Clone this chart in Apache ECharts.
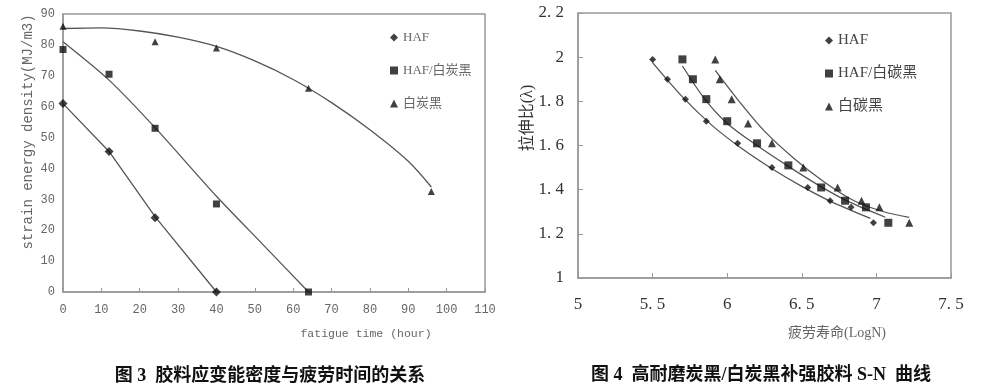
<!DOCTYPE html>
<html><head><meta charset="utf-8">
<script src="https://cdn.jsdelivr.net/npm/echarts@6/dist/echarts.min.js"></script>
<style>html,body{margin:0;padding:0;background:#fff}#c{width:1003px;height:387px}</style>
</head><body><div id="c"></div>
<script>
// ---- Fig 3 data ----
const hafTime = [0, 12, 24, 40];
const hafEnergy = [61, 45.5, 24, 0];
const mixTime = [0, 12, 24, 40, 64];
const mixEnergy = [78.5, 70.5, 53, 28.5, 0];
const whiteTime = [0, 24, 40, 64, 96];
const whiteEnergy = [86, 81, 79, 66, 32.5];
// trend lines
const hafFitX = [0, 12, 24, 40];
const hafFitY = [61, 45.5, 24.4, 0];
const mixFitX = [0, 12, 24, 40, 52, 64];
const mixFitY = [81, 68.6, 53.2, 31, 15.5, 0];
const whiteFitX = [0, 10, 20, 30, 40, 50, 60, 70, 80, 90, 96];
const whiteFitY = [85.3, 85.5, 84.5, 82.5, 79.5, 74.8, 68.8, 61.3, 52.5, 42.3, 34];
const fig3Legend = ['HAF', 'HAF/白炭黑', '白炭黑'];

// ---- Fig 4 data ----
const hafLogN = [5.50, 5.60, 5.72, 5.86, 6.07, 6.30, 6.54, 6.69, 6.83, 6.98];
const hafRatio = [1.99, 1.90, 1.81, 1.71, 1.61, 1.50, 1.41, 1.35, 1.32, 1.25];
const mixLogN = [5.70, 5.77, 5.86, 6.00, 6.20, 6.41, 6.63, 6.79, 6.93, 7.08];
const mixRatio = [1.99, 1.90, 1.81, 1.71, 1.61, 1.51, 1.41, 1.35, 1.32, 1.25];
const whiteLogN = [5.92, 5.95, 6.03, 6.14, 6.30, 6.51, 6.74, 6.90, 7.02, 7.22];
const whiteRatio = [1.99, 1.90, 1.81, 1.70, 1.61, 1.50, 1.41, 1.35, 1.32, 1.25];
const hafFit4X = [5.5, 5.7, 5.9, 6.1, 6.3, 6.5, 6.7, 6.96];
const hafFit4Y = [1.975, 1.82, 1.69, 1.585, 1.495, 1.415, 1.345, 1.27];
const mixFit4X = [5.7, 5.85, 6.0, 6.2, 6.4, 6.6, 6.8, 7.06];
const mixFit4Y = [1.96, 1.81, 1.70, 1.60, 1.51, 1.425, 1.35, 1.275];
const whiteFit4X = [5.92, 6.08, 6.25, 6.45, 6.65, 6.85, 7.05, 7.22];
const whiteFit4Y = [1.94, 1.80, 1.665, 1.54, 1.435, 1.35, 1.30, 1.275];
const fig4Legend = ['HAF ', 'HAF/白碳黑', '白碳黑'];

const zip = (a, b) => a.map((v, i) => [v, b[i]]);
const mono = "'Liberation Mono', 'DejaVu Sans Mono', monospace";
const serif = "'Liberation Serif', 'Noto Sans CJK SC', serif";
const fmtDot = v => { const s = String(Math.round(v * 10) / 10); return s.replace('.', '. '); };

const fitLine = (name, x, y, axis, smooth) => ({
  type: 'line', name: name, data: zip(x, y), xAxisIndex: axis, yAxisIndex: axis,
  symbol: 'none', smooth: smooth, lineStyle: { color: '#555', width: 1.3 }, silent: true, z: 1
});
const pts = (name, x, y, axis, sym, size) => ({
  type: 'scatter', name: name, data: zip(x, y), xAxisIndex: axis, yAxisIndex: axis,
  symbol: sym, symbolSize: size, itemStyle: { color: '#111' }, z: 3
});

const chart = echarts.init(document.getElementById('c'));
chart.setOption({
  animation: false,
  backgroundColor: '#fff',
  grid: [
    { left: 63, top: 14, width: 422, height: 278, show: true, borderColor: '#999', borderWidth: 1.5, backgroundColor: 'transparent' },
    { left: 578, top: 13, width: 373, height: 265, show: true, borderColor: '#999', borderWidth: 1.5, backgroundColor: 'transparent' }
  ],
  xAxis: [
    { type: 'value', gridIndex: 0, min: 0, max: 110, interval: 10,
      axisLine: { lineStyle: { color: '#999', width: 1.5 } },
      axisTick: { inside: true, length: 4, lineStyle: { color: '#999' } },
      splitLine: { show: false },
      axisLabel: { color: '#666', fontFamily: mono, fontSize: 12, margin: 12 } },
    { type: 'value', gridIndex: 1, min: 5, max: 7.5, interval: 0.5,
      axisLine: { lineStyle: { color: '#999', width: 1.5 } },
      axisTick: { inside: true, length: 5, lineStyle: { color: '#999' } },
      splitLine: { show: false },
      axisLabel: { color: '#333', fontFamily: serif, fontSize: 17, margin: 18, formatter: fmtDot } }
  ],
  yAxis: [
    { type: 'value', gridIndex: 0, min: 0, max: 90, interval: 10,
      axisLine: { show: true, lineStyle: { color: '#999', width: 1.5 } },
      axisTick: { show: false },
      splitLine: { show: false },
      axisLabel: { color: '#666', fontFamily: mono, fontSize: 12, margin: 8 } },
    { type: 'value', gridIndex: 1, min: 1, max: 2.2, interval: 0.2,
      axisLine: { show: true, lineStyle: { color: '#999', width: 1.5 } },
      axisTick: { show: true, inside: true, length: 5, lineStyle: { color: '#999' } },
      splitLine: { show: false },
      axisLabel: { color: '#333', fontFamily: serif, fontSize: 17, margin: 14, formatter: fmtDot } }
  ],
  legend: [
    { orient: 'vertical', left: 385, top: 26, itemWidth: 8, itemHeight: 8, itemGap: 20,
      textStyle: { color: '#666', fontFamily: serif, fontSize: 13 },
      data: [
        { name: fig3Legend[0], icon: 'diamond' },
        { name: fig3Legend[1], icon: 'rect' },
        { name: fig3Legend[2], icon: 'triangle' }
      ] },
    { orient: 'vertical', left: 820, top: 28, itemWidth: 8, itemHeight: 8, itemGap: 18,
      textStyle: { color: '#444', fontFamily: serif, fontSize: 15 },
      formatter: n => n.trim(),
      data: [
        { name: fig4Legend[0], icon: 'diamond' },
        { name: fig4Legend[1], icon: 'rect' },
        { name: fig4Legend[2], icon: 'triangle' }
      ] }
  ],
  series: [
    fitLine('fit1', hafFitX, hafFitY, 0, false),
    fitLine('fit2', mixFitX, mixFitY, 0, 0.25),
    fitLine('fit3', whiteFitX, whiteFitY, 0, 0.3),
    pts(fig3Legend[0], hafTime, hafEnergy, 0, 'diamond', 9),
    pts(fig3Legend[1], mixTime, mixEnergy, 0, 'rect', 7),
    pts(fig3Legend[2], whiteTime, whiteEnergy, 0, 'triangle', 7),
    fitLine('fit4', hafFit4X, hafFit4Y, 1, 0.3),
    fitLine('fit5', mixFit4X, mixFit4Y, 1, 0.3),
    fitLine('fit6', whiteFit4X, whiteFit4Y, 1, 0.3),
    pts(fig4Legend[0], hafLogN, hafRatio, 1, 'diamond', 7),
    pts(fig4Legend[1], mixLogN, mixRatio, 1, 'rect', 8),
    pts(fig4Legend[2], whiteLogN, whiteRatio, 1, 'triangle', 8)
  ],
  graphic: [
    { type: 'text', x: 28, y: 132, rotation: Math.PI / 2,
      style: { text: 'strain energy density(MJ/m3)', fill: '#666', font: '14px ' + mono, align: 'center', verticalAlign: 'middle' } },
    { type: 'text', x: 366, y: 334,
      style: { text: 'fatigue time (hour)', fill: '#666', font: '11.5px ' + mono, align: 'center', verticalAlign: 'middle' } },
    { type: 'text', x: 528, y: 118, rotation: Math.PI / 2,
      style: { text: '拉伸比(λ)', fill: '#333', font: '16px ' + serif, align: 'center', verticalAlign: 'middle' } },
    { type: 'text', x: 837, y: 333,
      style: { text: '疲劳寿命(LogN)', fill: '#666', font: '14px ' + serif, align: 'center', verticalAlign: 'middle' } },
    { type: 'text', x: 270, y: 376,
      style: { text: '图 3  胶料应变能密度与疲劳时间的关系', fill: '#111', font: 'bold 18px ' + serif, align: 'center', verticalAlign: 'middle' } },
    { type: 'text', x: 761, y: 375,
      style: { text: '图 4  高耐磨炭黑/白炭黑补强胶料 S-N  曲线', fill: '#111', font: 'bold 18px ' + serif, align: 'center', verticalAlign: 'middle' } }
  ]
});
</script></body></html>
